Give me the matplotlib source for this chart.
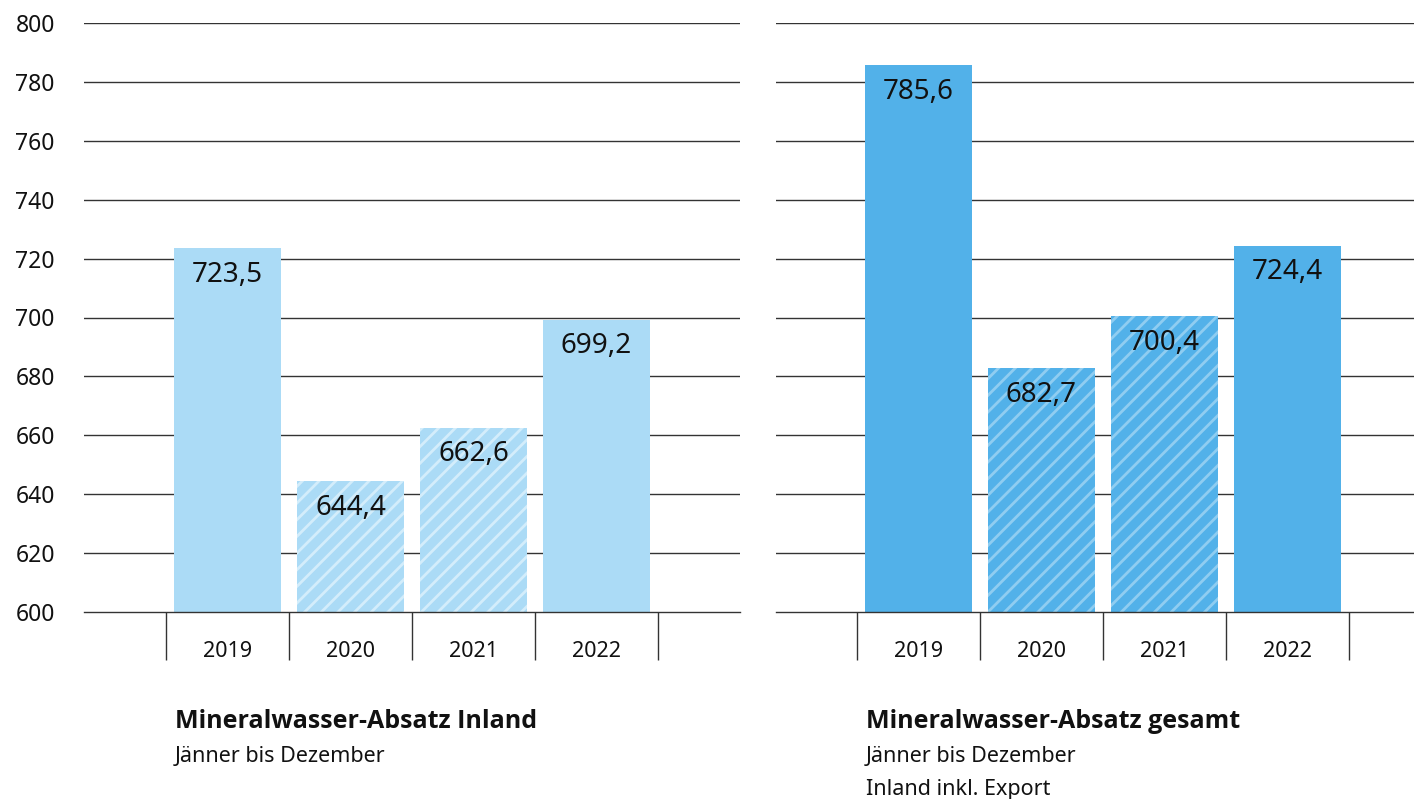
import numpy as np
import matplotlib.pyplot as plt
from matplotlib import font_manager

plt.rcParams['font.family'] = ['Noto Sans', 'DejaVu Sans']
plt.rcParams['hatch.linewidth'] = 2.0

# Daten (Mio. Liter)
years = ['2019', '2020', '2021', '2022']
inland = [723.5, 644.4, 662.6, 699.2]
gesamt = [785.6, 682.7, 700.4, 724.4]
hatched = [False, True, True, False]

y_ticks = [600, 620, 640, 660, 680, 700, 720, 740, 760, 780, 800]

titles = ['Mineralwasser-Absatz Inland', 'Mineralwasser-Absatz gesamt']
subtitles = ['Jänner bis Dezember', 'Jänner bis Dezember\nInland inkl. Export']

light_blue = '#abdbf6'
light_hatch = '#d3edfb'
dark_blue = '#52b1e9'
dark_hatch = '#8fcdf1'

# fette Schrift: erste Familie mit Bold-Schnitt nehmen
bold_family = 'DejaVu Sans'
for fam in ['Noto Sans', 'Open Sans', 'Lato', 'Roboto']:
    p = font_manager.findfont(font_manager.FontProperties(family=fam, weight='bold'),
                              fallback_to_default=False)
    if 'bold' in p.lower() or 'Bd' in p:
        bold_family = fam
        break

fig = plt.figure(figsize=(14.14, 7.99), dpi=100)
ax1 = fig.add_axes([84 / 1414, 1 - 612 / 799, 656 / 1414, 589 / 799])
ax2 = fig.add_axes([776 / 1414, 1 - 612 / 799, 638 / 1414, 589 / 799])


def fmt(v):
    return f'{v:.1f}'.replace('.', ',')


def draw(ax, values, color, hcolor, xlim):
    x = np.arange(len(values))
    for i, v in enumerate(values):
        if hatched[i]:
            ax.bar(x[i], v - 600, bottom=600, width=0.87, color=color,
                   edgecolor=hcolor, linewidth=0, hatch='//', zorder=2)
        else:
            ax.bar(x[i], v - 600, bottom=600, width=0.87, color=color,
                   linewidth=0, zorder=2)
        ax.text(x[i], v - 4.2, fmt(v), ha='center', va='top',
                fontsize=20, color='#111111', zorder=3)
    ax.set_ylim(600, 800)
    ax.set_xlim(*xlim)
    for t in y_ticks[1:]:
        ax.axhline(t, color='#333333', lw=1, zorder=1)
    for s in ['top', 'right', 'left']:
        ax.spines[s].set_visible(False)
    ax.spines['bottom'].set_color('#333333')
    ax.spines['bottom'].set_linewidth(1)
    ax.set_xticks(x)
    ax.set_xticklabels(years, fontsize=15.5, color='#111111')
    ax.tick_params(axis='x', which='major', length=0, pad=21)
    ax.set_xticks(np.arange(len(values) + 1) - 0.5, minor=True)
    ax.tick_params(axis='x', which='minor', length=34.5, width=1,
                   color='#333333', direction='out')


draw(ax1, inland, light_blue, light_hatch, (-1.167, 4.167))
draw(ax2, gesamt, dark_blue, dark_hatch, (-1.159, 4.03))

ax1.set_yticks(y_ticks)
ax1.set_yticklabels([str(t) for t in y_ticks], fontsize=16.5, color='#111111')
ax1.tick_params(axis='y', length=0, pad=21)
ax2.set_yticks([])

for xpos, title, sub in [(175, titles[0], subtitles[0]), (866, titles[1], subtitles[1])]:
    fig.text(xpos / 1414, 1 - 722 / 799, title, fontsize=18, fontweight='bold',
             family=bold_family, va='center', ha='left', color='#111111')
    fig.text(xpos / 1414, 1 - 746 / 799, sub, fontsize=15.5, va='top',
             ha='left', color='#111111', linespacing=1.75)

fig.savefig('out.png', dpi=100)
